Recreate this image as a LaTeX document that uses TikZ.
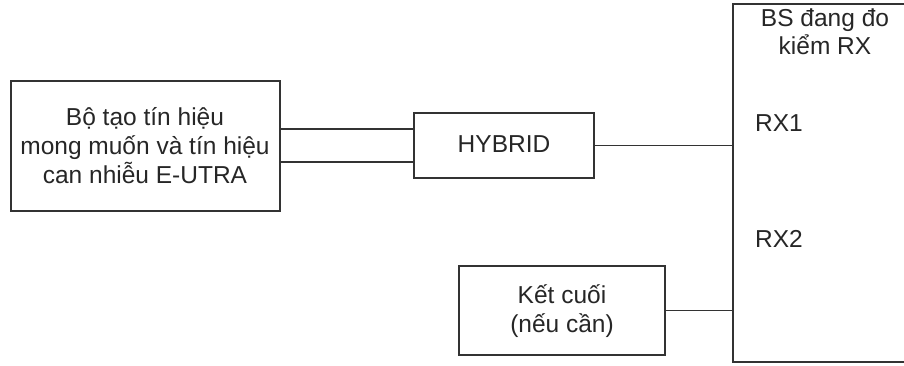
\documentclass[tikz,border=0pt]{standalone}
\usepackage{fontspec}
\setmainfont{Liberation Sans}
\begin{document}
\begin{tikzpicture}[x=1pt,y=-1pt,
  box/.style={draw=black!80, line width=1.4pt, rectangle, inner sep=0pt},
  wire/.style={draw=black!80, line width=1.3pt},
  lbl/.style={font=\fontsize{24.5}{30}\selectfont, text=black!85, inner sep=0pt, anchor=base}]
\useasboundingbox (0,0) rectangle (904,366);
\clip (0,0) rectangle (904,366);
% boxes
\node[box, minimum width=269pt, minimum height=130pt] (gen) at (145.5,146) {};
\node[box, minimum width=180pt, minimum height=65pt] (hyb) at (504,145.5) {};
\node[box, minimum width=206pt, minimum height=89pt] (term) at (562,310.5) {};
\node[box, minimum width=200pt, minimum height=358pt] (bs) at (833,183) {};
% texts
\node[lbl] (g1) at (145,126) {Bộ tạo tín hiệu};
\node[lbl] (g2) at (145,155) {mong muốn và tín hiệu};
\node[lbl] (g3) at (145,184) {can nhiễu E-UTRA};
\node[lbl] (h1) at (504,153) {HYBRID};
\node[lbl] (t1) at (562,303) {Kết cuối};
\node[lbl] (t2) at (562,332) {(nếu cần)};
\node[lbl] (b1) at (825,27) {BS đang đo};
\node[lbl] (b2) at (825,55) {kiểm RX};
\node[lbl, anchor=base west] (rx1) at (755,132) {RX1};
\node[lbl, anchor=base west] (rx2) at (755,247) {RX2};
% connectors
\draw[wire] (gen.east |- 0,129) -- (hyb.west |- 0,129);
\draw[wire] (gen.east |- 0,162) -- (hyb.west |- 0,162);
\draw[wire] (hyb.east) -- (bs.west |- hyb.east);
\draw[wire] (term.east) -- (bs.west |- term.east);
\end{tikzpicture}
\end{document}
